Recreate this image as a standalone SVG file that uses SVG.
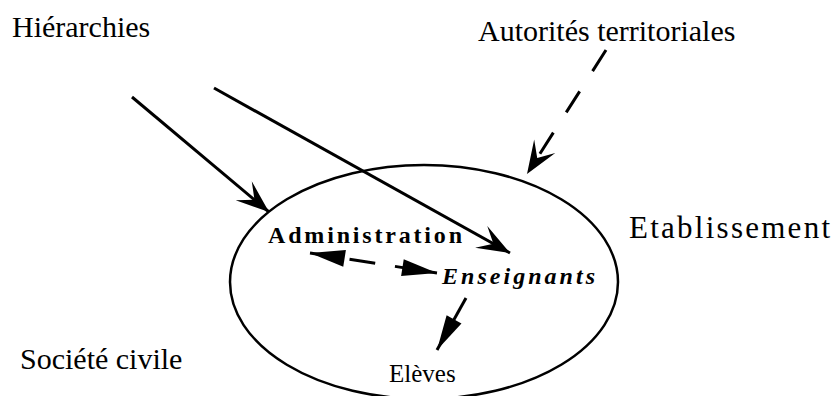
<svg xmlns="http://www.w3.org/2000/svg" width="835" height="396" viewBox="0 0 835 396">
  <style>
    .lbl { font-family: "Liberation Serif", "Times New Roman", serif; fill: #000; }
    .big { font-size: 30px; }
    .conn { fill: none; stroke: #000; stroke-width: 3; }
    .dash { stroke-dasharray: 25 24; }
    .node-shape { fill: none; stroke: #000; stroke-width: 2.5; }
  </style>
  <defs>
    <marker id="stealth" viewBox="-36 -15 40 30" refX="0" refY="0" markerWidth="40" markerHeight="30" markerUnits="userSpaceOnUse" orient="auto">
      <path d="M0,0 L-33,-12.5 L-19,0 L-33,12.5 Z" fill="#000"/>
    </marker>
    <marker id="tri" viewBox="-38 -11 42 22" refX="0" refY="0" markerWidth="42" markerHeight="22" markerUnits="userSpaceOnUse" orient="auto-start-reverse">
      <path d="M0,0 L-35,-8.5 L-35,8.5 Z" fill="#000"/>
    </marker>
  </defs>

  <rect x="0" y="0" width="835" height="396" fill="#fff"/>

  <g id="etablissement">
    <ellipse class="node-shape" cx="424" cy="282" rx="194" ry="117"/>
    <text class="lbl" x="629" y="238" font-size="31" textLength="201" lengthAdjust="spacing">Etablissement</text>
  </g>

  <g id="hierarchies">
    <text class="lbl big" x="12" y="37">Hiérarchies</text>
  </g>

  <g id="autorites">
    <text class="lbl big" x="478" y="41">Autorités territoriales</text>
  </g>

  <g id="societe">
    <text class="lbl big" x="20" y="369">Société civile</text>
  </g>

  <g id="administration">
    <text class="lbl" x="268" y="243" font-size="24" font-weight="bold" textLength="194" lengthAdjust="spacing">Administration</text>
  </g>

  <g id="enseignants">
    <text class="lbl" x="442" y="284" font-size="24" font-weight="bold" font-style="italic" textLength="153" lengthAdjust="spacing">Enseignants</text>
  </g>

  <g id="eleves">
    <text class="lbl" x="389" y="382" font-size="25">Elèves</text>
  </g>

  <g id="connectors">
    <path class="conn" d="M132,97 L269,212" marker-end="url(#stealth)"/>
    <path class="conn" d="M214,88 L510,253" marker-end="url(#stealth)"/>
    <path class="conn dash" d="M606,50 L527,174" marker-end="url(#stealth)"/>
    <path class="conn" d="M310,253 L437,273" stroke-dasharray="30 10 26 20 60" marker-start="url(#tri)" marker-end="url(#tri)"/>
    <path class="conn" d="M466,298 L437,350" marker-end="url(#tri)"/>
  </g>
</svg>
